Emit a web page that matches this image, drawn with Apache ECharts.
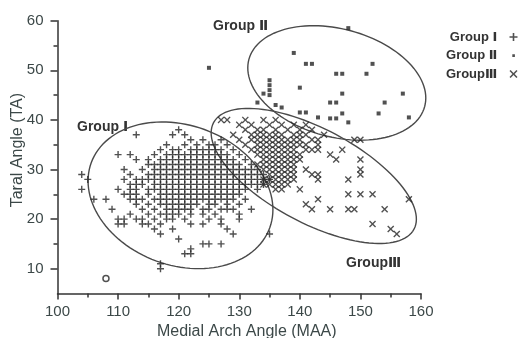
<!DOCTYPE html>
<html>
<head>
<meta charset="utf-8">
<script src="https://cdn.jsdelivr.net/npm/echarts@6/dist/echarts.min.js"></script>
<style>
html,body{margin:0;padding:0;background:#fff;}
#chart{width:523px;height:338px;}
</style>
</head>
<body>
<div id="chart"></div>
<script>
// ---------- data ----------
const xMajorTicks = [100, 110, 120, 130, 140, 150, 160];
const xMinorTicks = [105, 115, 125, 135, 145, 155];
const yMajorTicks = [10, 20, 30, 40, 50, 60];
const yMinorTicks = [15, 25, 35, 45, 55];

const seriesNames = ['Group Ⅰ', 'Group Ⅱ', 'GroupⅢ'];
const groupLabels = ['Group Ⅰ', 'Group Ⅱ', 'GroupⅢ'];

// Group I (+): rows of [TA, [MAA values]]
const group1Rows = [
  [38, [120]],
  [37, [113, 119, 121]],
  [36, [122, 124, 127]],
  [35, [118, 121, 123, 125, 126, 128]],
  [34, [117, 119, 120, 122, 123, 124, 125, 126, 127, 129]],
  [33, [110, 112, 116, 118, 119, 120, 121, 122, 123, 124, 125, 126, 127, 128, 130]],
  [32, [113, 115, 117, 118, 119, 120, 121, 122, 123, 124, 125, 126, 127, 128, 129, 131]],
  [31, [115, 116, 117, 118, 119, 120, 121, 122, 123, 124, 125, 126, 127, 128, 129, 130, 132]],
  [30, [111, 114, 116, 117, 118, 119, 120, 121, 122, 123, 124, 125, 126, 127, 128, 129, 130, 131, 132, 133]],
  [29, [104, 112, 115, 116, 117, 118, 119, 120, 121, 122, 123, 124, 125, 126, 127, 128, 129, 130, 131, 132, 133, 134]],
  [28, [105, 111, 113, 114, 115, 116, 117, 118, 119, 120, 121, 122, 123, 124, 125, 126, 127, 128, 129, 130, 131, 132, 133, 134, 135]],
  [27, [112, 113, 114, 116, 117, 118, 119, 120, 121, 122, 123, 124, 125, 126, 127, 128, 129, 130, 131, 132, 133, 134]],
  [26, [104, 110, 112, 113, 115, 116, 117, 118, 119, 120, 121, 122, 123, 124, 125, 126, 127, 128, 129, 130, 131, 133]],
  [25, [111, 112, 113, 115, 117, 118, 119, 120, 121, 122, 123, 124, 125, 126, 127, 128, 129, 130]],
  [24, [106, 108, 112, 113, 114, 116, 117, 118, 119, 120, 121, 122, 123, 124, 125, 126, 127, 128, 129, 131]],
  [23, [113, 115, 117, 118, 119, 120, 121, 122, 123, 125, 126, 128, 130]],
  [22, [109, 114, 116, 118, 119, 120, 121, 122, 124, 125, 127, 128, 129, 132]],
  [21, [112, 115, 117, 118, 119, 120, 122, 124, 126, 130]],
  [20, [110, 111, 113, 114, 116, 118, 119, 121, 125, 127, 130]],
  [19, [110, 111, 114, 115, 117, 122, 124, 127]],
  [18, [116, 119, 128]],
  [17, [117, 129, 135]],
  [16, [120]],
  [15, [124, 125, 127]],
  [14, [122]],
  [13, [121, 122]],
  [11, [117]],
  [10, [117]]
];

// Group II (small squares): [MAA, TA]
const group2 = [
  [148, 58.5], [139, 53.5], [141, 51.3], [142, 51.3], [152, 51.3],
  [146, 49.3], [147, 49.3], [151, 49.3], [125, 50.5], [140, 46.5],
  [135, 48], [135, 47], [135, 46], [135, 45], [134, 45.3],
  [147, 45.3], [157, 45.3], [133, 43.5], [145, 43.5], [146, 43.5],
  [154, 43.5], [136, 43], [137, 42.5], [140, 41.5], [141, 41.5],
  [147, 41.3], [153, 41.3], [143, 40.5], [145, 40.3], [146, 40.3],
  [158, 40.5], [148, 39.5]
];

// Group III (x): rows of [TA, [MAA values]]
const group3Rows = [
  [40, [127, 128, 131, 134, 136]],
  [39, [130, 132, 135, 137, 139, 141]],
  [38, [131, 133, 134, 136, 138, 140, 142]],
  [37, [129, 132, 133, 134, 135, 136, 137, 139, 140, 141, 144]],
  [36, [130, 132, 133, 134, 135, 136, 137, 138, 139, 140, 142, 143, 149, 150]],
  [35, [131, 133, 134, 135, 136, 137, 138, 139, 140, 141, 143]],
  [34, [132, 133, 134, 135, 136, 137, 138, 139, 141, 142, 143, 147]],
  [33, [133, 134, 135, 136, 137, 138, 139, 140, 145]],
  [32, [134, 135, 136, 137, 138, 139, 140, 146, 150]],
  [31, [133, 134, 135, 136, 137, 138, 139]],
  [30, [134, 135, 136, 137, 138, 139, 141, 150]],
  [29, [135, 136, 137, 138, 139, 142, 143, 150]],
  [28, [134, 135, 136, 137, 138, 139, 143, 148]],
  [27, [134, 135, 136, 137, 138]],
  [26, [136, 137, 140]],
  [25, [148, 150, 152]],
  [24, [143, 158]],
  [23, [141]],
  [22, [142, 145, 148, 149, 154]],
  [19, [152]],
  [18, [155]],
  [17, [156]]
];

// isolated open-circle point
const outlier = [[108, 8]];

// ellipse centres [MAA, TA]
const ellipseCenters = [[120.3, 24.8], [146.1, 47.45], [142.3, 28.7]];

// ---------- build ----------
const group1 = group1Rows.flatMap(([y, xs]) => xs.map(x => [x, y]));
const group3 = group3Rows.flatMap(([y, xs]) => xs.map(x => [x, y]));

// ellipse shapes (pixel semi-axes, rotation in degrees)
const ellipseShapes = [
  { a: 95, b: 70, rot: 20 },
  { a: 91, b: 54, rot: 15 },
  { a: 113.5, b: 47, rot: 28 }
];

const FONT = '"Liberation Sans", Arial, "DejaVu Sans", sans-serif';
const INK = '#262626';
const plusPath = 'path://M3.2,0h1.6v8h-1.6z M0,3.2h8v1.6h-8z';
const crossPath = 'path://M0,1.1L1.1,0L4,2.9L6.9,0L8,1.1L5.1,4L8,6.9L6.9,8L4,5.1L1.1,8L0,6.9L2.9,4Z';
const dotIcon = 'path://M0,0L0.01,0.01M8,8L8.01,8.01M2.8,2.8h2.6v2.6h-2.6z';

const chart = echarts.init(document.getElementById('chart'), null, { renderer: 'canvas' });

const axisCommon = {
  type: 'value',
  splitLine: { show: false },
  axisLine: { show: true, onZero: false, lineStyle: { color: '#333', width: 1.5 } },
};

const option = {
  animation: false,
  backgroundColor: '#fff',
  grid: { left: 57.5, right: 102, top: 20.7, bottom: 44.5, containLabel: false, outerBoundsMode: 'none' },
  xAxis: [
    Object.assign({}, axisCommon, {
      min: 100, max: 160, interval: 5, position: 'bottom',
      name: 'Medial Arch Angle (MAA)', nameLocation: 'middle', nameGap: 30, nameMoveOverlap: false,
      nameTextStyle: { fontFamily: FONT, fontSize: 16, color: '#3c4848', padding: [0, 0, 0, 15] },
      axisTick: { show: true, length: 6, customValues: xMajorTicks, lineStyle: { color: '#333', width: 1.5 } },
      axisLabel: { customValues: xMajorTicks, margin: 11, fontFamily: FONT, fontSize: 15, color: '#3c4848' }
    }),
    Object.assign({}, axisCommon, {
      min: 100, max: 160, interval: 5, position: 'bottom',
      axisLine: { show: false },
      axisTick: { show: true, length: 4, customValues: xMinorTicks, lineStyle: { color: '#333', width: 1.5 } },
      axisLabel: { show: false }
    })
  ],
  yAxis: [
    Object.assign({}, axisCommon, {
      min: 5, max: 60, interval: 5, position: 'left',
      name: 'Taral Angle (TA)', nameLocation: 'middle', nameGap: 32, nameMoveOverlap: false,
      nameTextStyle: { fontFamily: FONT, fontSize: 16, color: '#3c4848', padding: [0, 0, 0, 14] },
      axisTick: { show: true, length: 7, customValues: yMajorTicks, lineStyle: { color: '#333', width: 1.5 } },
      axisLabel: { customValues: yMajorTicks, margin: 14, fontFamily: FONT, fontSize: 15, color: '#3c4848' }
    }),
    Object.assign({}, axisCommon, {
      min: 5, max: 60, interval: 5, position: 'left',
      axisLine: { show: false },
      axisTick: { show: true, length: 4, customValues: yMinorTicks, lineStyle: { color: '#333', width: 1.5 } },
      axisLabel: { show: false }
    })
  ],
  legend: {
    orient: 'vertical', left: 441, top: 24, align: 'right',
    itemWidth: 8, itemHeight: 8, itemGap: 2.5,
    formatter: n => n + '  ',
    textStyle: { fontFamily: FONT, fontSize: 13, fontWeight: 'bold', color: '#333', lineHeight: 16 },
    data: [
      { name: seriesNames[0], icon: plusPath },
      { name: seriesNames[1], icon: dotIcon },
      { name: seriesNames[2], icon: crossPath }
    ]
  },
  graphic: [
    { type: 'text', left: 77, top: 120, style: { text: groupLabels[0], font: 'bold 14px ' + FONT, fill: '#333' } },
    { type: 'text', left: 213, top: 19, style: { text: groupLabels[1], font: 'bold 14px ' + FONT, fill: '#333' } },
    { type: 'text', left: 346, top: 256, style: { text: groupLabels[2], font: 'bold 14px ' + FONT, fill: '#333' } }
  ],
  series: [
    {
      name: 'ellipses', type: 'custom', coordinateSystem: 'cartesian2d', silent: true, z: 1,
      clip: false,
      data: ellipseCenters,
      renderItem: function (params, api) {
        const e = ellipseShapes[params.dataIndex];
        const c = api.coord([api.value(0), api.value(1)]);
        const th = e.rot * Math.PI / 180;
        const pts = [];
        for (let i = 0; i < 120; i++) {
          const t = i / 120 * Math.PI * 2;
          const px = e.a * Math.cos(t), py = e.b * Math.sin(t);
          pts.push([c[0] + px * Math.cos(th) - py * Math.sin(th), c[1] + px * Math.sin(th) + py * Math.cos(th)]);
        }
        return { type: 'polygon', shape: { points: pts }, style: { fill: 'none', stroke: '#4a4a4a', lineWidth: 1.4 } };
      }
    },
    {
      name: seriesNames[0], type: 'scatter', data: group1, symbol: plusPath, symbolSize: 7, z: 3,
      itemStyle: { color: INK }
    },
    {
      name: seriesNames[1], type: 'scatter', data: group2, symbol: 'rect', symbolSize: 4, z: 3,
      itemStyle: { color: INK }
    },
    {
      name: seriesNames[2], type: 'scatter', data: group3, symbol: crossPath, symbolSize: 7, z: 3,
      itemStyle: { color: INK }
    },
    {
      name: 'outlier', type: 'scatter', data: outlier, symbol: 'circle', symbolSize: 6, z: 3,
      itemStyle: { color: '#fff', borderColor: INK, borderWidth: 1.5 }
    }
  ]
};
chart.setOption(option);
</script>
</body>
</html>
